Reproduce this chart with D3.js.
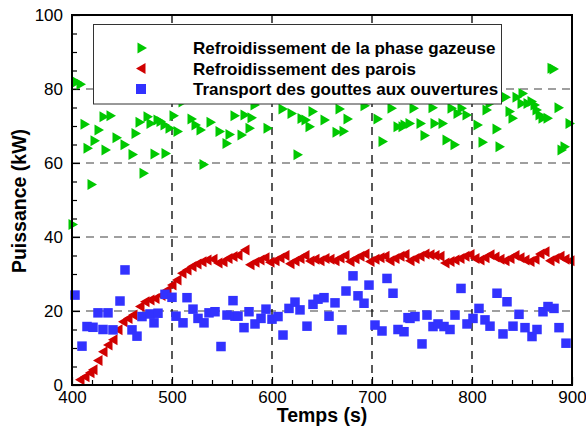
<!DOCTYPE html>
<html><head><meta charset="utf-8">
<script src="https://cdn.jsdelivr.net/npm/d3@7"></script>
<style>body{margin:0;background:#fff}svg{display:block}text{font-family:"Liberation Sans",Arial,sans-serif}</style>
</head><body>
<svg id="c" width="586" height="432"></svg>
<script>
const seriesNames = ["Refroidissement de la phase gazeuse","Refroidissement des parois","Transport des gouttes aux ouvertures"];
const xTicks = [400,500,600,700,800,900];
const yTicks = [0,20,40,60,80,100];

const greenX = [401,405,409,413,416,420,423,427,432,434,439,445,453,461,464,468,472,476,479,483,486,489,493,494,498,502,506,511,520,524,529,532,539,548,555,558,563,570,573,578,580,583,596,611,620,626,630,634,638,641,653,665,668,672,676,693,706,711,720,726,731,733,738,742,749,753,761,763,771,775,780,783,786,790,795,806,811,815,818,825,828,834,838,841,845,850,851,856,860,863,865,868,871,876,880,882,887,890,893,898];
const greenY = [43.4,81.9,81.3,70.5,64,54.2,66,68.9,72.5,63.5,72.8,66.8,64.9,62.3,68,71,57.2,72.5,70.7,62.4,71.6,71.2,70.3,62.6,69.4,72.8,68.5,76.5,71.9,70.3,68.9,59.6,71,68.5,65.3,67.7,72.8,67.6,73,69.4,72.2,75.7,69.4,74.6,73.4,62.2,72,71.6,69.8,73.9,71.6,68.3,74.6,68.6,71.9,75.5,71.9,65.8,74.8,69.8,69.8,70.3,70.7,74.8,70.7,67.4,74.9,70.7,70.7,66.2,74.8,64.9,73.4,74.8,73,70.3,65.6,74.3,76.1,69.2,64.4,77.8,73.9,72.1,77.8,76.1,78.8,76.1,76.6,75.7,74.3,73,72.1,72.1,85.6,85.4,74.9,63.5,64.4,70.7];

const redX = [408,413,418,421,426,431,436,441,446,451,456,461,468,473,478,483,489,495,500,505,510,515,520,525,530,535,541,546,551,556,561,566,573,578,583,588,593,598,603,608,613,618,623,628,633,638,643,648,653,658,663,668,673,678,683,688,693,698,703,708,713,718,723,728,733,738,743,748,753,758,763,768,773,778,783,788,793,798,803,808,813,818,823,828,833,838,843,848,853,858,863,868,873,878,883,888,893,898];
const redY = [1.4,2.2,3.3,4.1,6.6,9,10.8,12.2,14.9,17.1,18,18.9,21.2,22.5,23,23.4,24.2,25.7,27,28.4,30.2,31.1,32,32.7,33.3,33.8,34,33,33.3,34.2,34.7,35.1,36.5,32.5,33.2,33.8,34.4,33.2,33.6,34.3,35,32.8,33.5,34.2,35,33.5,34,33.6,34.2,34,33.6,34.3,35,33.4,34.1,34.8,35.4,33.4,34,34.4,34.8,33.6,34.2,34.8,35.3,33.6,34.2,34.8,35.4,35.2,35,34.8,33,33.4,33.8,34.2,34.8,35.3,34.2,33.8,34.4,35.2,34.6,34,33.6,34.2,35,34.4,33.8,33.4,34,35.4,36,33.6,34.2,34.8,34,33.6];

const blueX = [403,410,415,421,426,431,436,441,448,453,460,465,470,478,482,486,493,500,504,511,515,521,526,532,537,543,549,555,561,563,566,572,577,583,589,594,600,606,611,617,623,628,635,641,646,652,657,663,670,674,681,686,692,697,703,710,715,721,726,732,736,738,743,750,755,761,766,772,778,783,789,795,801,807,813,818,825,831,835,841,847,853,860,865,871,876,882,887,894];
const blueY = [24.3,10.5,15.8,15.6,19.5,15,19.5,14.9,22.7,31.1,14.9,13.2,18.5,19.2,16.8,19.4,24.5,23.7,18.6,16.8,23.6,20.5,18,16.8,19.5,19.8,10.4,18.9,22.8,18.6,18.6,15.5,19.8,16.5,18,20.5,17.8,18.5,13.5,20.7,22.4,20.3,15.9,21.8,23.2,23.6,18.6,22.2,14.9,25.4,29.5,24.1,22.1,27,16.2,14.6,28.8,24.8,15,14.4,18.2,18,18.5,11.1,18.9,15.8,16.5,15.8,15,18.9,26.1,16.5,18,20.7,17.6,15.9,24.8,13.8,22.5,15.9,19.1,15.5,13.1,15,19.8,21.2,20.7,15.5,11.3];

const colors = ["#00c800","#d00000","#3232ff"];

const svg = d3.select("#c");
const L = 72, R = 572, T = 15, B = 385;
const x = d3.scaleLinear().domain([400,900]).range([L,R]);
const y = d3.scaleLinear().domain([0,100]).range([B,T]);

// grid
const g = svg.append("g");
g.selectAll(".hg").data(yTicks.filter(v=>v>0&&v<100)).join("line")
  .attr("x1",L).attr("x2",R).attr("y1",d=>y(d)).attr("y2",d=>y(d))
  .attr("stroke","#808080").attr("stroke-width",1.6).attr("stroke-dasharray","8,6");
g.selectAll(".vg").data(xTicks.filter(v=>v>400&&v<900)).join("line")
  .attr("y1",T).attr("y2",B).attr("x1",d=>x(d)).attr("x2",d=>x(d))
  .attr("stroke","#000").attr("stroke-width",1.3).attr("stroke-dasharray","8,6");

// minor ticks
const minorX = d3.range(400,901,20).filter(v=>v%100!==0);
const minorY = d3.range(0,101,5).filter(v=>v%20!==0);
svg.append("g").attr("transform",`translate(0,${B})`)
  .call(d3.axisBottom(x).tickValues(minorX).tickSize(-5).tickFormat(""))
  .call(a=>a.select(".domain").remove()).selectAll("line").attr("stroke-width",1.2);
svg.append("g").attr("transform",`translate(${L},0)`)
  .call(d3.axisLeft(y).tickValues(minorY).tickSize(-5).tickFormat(""))
  .call(a=>a.select(".domain").remove()).selectAll("line").attr("stroke-width",1.2);

// major axes
const ax = svg.append("g").attr("transform",`translate(0,${B})`)
  .call(d3.axisBottom(x).tickValues(xTicks).tickSize(-8).tickPadding(6).tickFormat(d3.format("d")));
ax.select(".domain").remove();
ax.selectAll("text").attr("font-size",17).attr("font-family","'Liberation Sans',Arial,sans-serif").attr("fill","#000");
ax.selectAll("line").attr("stroke-width",1.2);
const ay = svg.append("g").attr("transform",`translate(${L},0)`)
  .call(d3.axisLeft(y).tickValues(yTicks).tickSize(-8).tickPadding(9).tickFormat(d3.format("d")));
ay.select(".domain").remove();
ay.selectAll("text").attr("font-size",17).attr("font-family","'Liberation Sans',Arial,sans-serif").attr("fill","#000");
ay.selectAll("line").attr("stroke-width",1.2);

// markers
const triR = "M-4.5,-5.5L5,0L-4.5,5.5Z";
const triL = "M4.5,-5.5L-5,0L4.5,5.5Z";
const green = greenX.map((v,i)=>[v,greenY[i]]);
const red = redX.map((v,i)=>[v,redY[i]]);
const blue = blueX.map((v,i)=>[v,blueY[i]]);
svg.append("g").selectAll("path").data(green).join("path")
  .attr("d",triR).attr("transform",d=>`translate(${x(d[0])},${y(d[1])})`).attr("fill",colors[0]);
svg.append("g").selectAll("path").data(red).join("path")
  .attr("d",triL).attr("transform",d=>`translate(${x(d[0])},${y(d[1])})`).attr("fill",colors[1]);
svg.append("g").selectAll("rect").data(blue).join("rect")
  .attr("x",d=>x(d[0])-4.75).attr("y",d=>y(d[1])-4.75).attr("width",9.5).attr("height",9.5).attr("fill",colors[2]);

// frame
svg.append("rect").attr("x",L).attr("y",T).attr("width",R-L).attr("height",B-T)
  .attr("fill","none").attr("stroke","#000").attr("stroke-width",2);

// legend
const lg = svg.append("g");
lg.append("rect").attr("x",93.5).attr("y",24.5).attr("width",408).attr("height",79.5)
  .attr("fill","#fff").attr("stroke","#333").attr("stroke-width",1);
const rows = [48,68.5,89];
lg.append("path").attr("d",triR).attr("transform",`translate(142,${rows[0]})`).attr("fill",colors[0]);
lg.append("path").attr("d",triL).attr("transform",`translate(141,${rows[1]})`).attr("fill",colors[1]);
lg.append("rect").attr("x",136).attr("y",rows[2]-5).attr("width",10).attr("height",10).attr("fill",colors[2]);
lg.selectAll("text").data(seriesNames).join("text")
  .attr("x",193).attr("y",(d,i)=>rows[i]+6).attr("font-size",17).attr("font-weight","bold").text(d=>d);

// axis titles
svg.append("text").attr("x",(L+R)/2).attr("y",422).attr("text-anchor","middle")
  .attr("font-size",19.5).attr("font-weight","bold").text("Temps (s)");
svg.append("text").attr("transform","translate(26,201) rotate(-90)").attr("text-anchor","middle")
  .attr("font-size",19.5).attr("font-weight","bold").text("Puissance (kW)");
</script>
</body></html>
